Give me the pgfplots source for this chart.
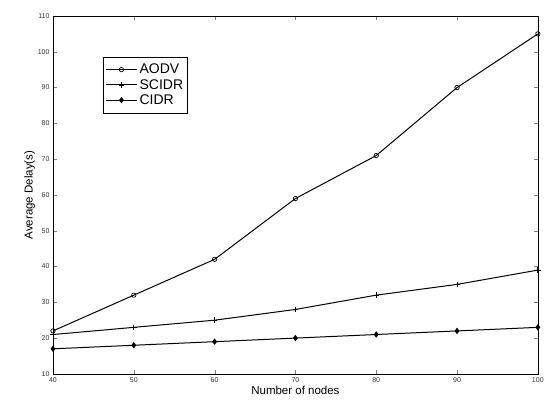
\documentclass[border=0pt]{standalone}
\usepackage{pgfplots}
\pgfplotsset{compat=1.18}
\usepackage{fontspec}
\setmainfont{Liberation Sans}
\usetikzlibrary{calc}
\begin{document}
\begin{tikzpicture}
\begin{axis}[
  scale only axis,
  width=485pt, height=358pt,
  xmin=40, xmax=100, ymin=10, ymax=110,
  xtick={40,50,...,100}, ytick={10,20,...,110},
  tick align=inside, tick pos=both,
  major tick length=4pt,
  /pgf/number format/assume math mode=true,
  tick label style={font=\fontsize{7}{8}\selectfont, color=black!80},
  xlabel={Number of nodes}, ylabel={Average Delay(s)},
  label style={font=\fontsize{11.5}{13}\selectfont},
  xlabel style={yshift=3pt},
  ylabel style={yshift=-4pt},
  legend style={at={(axis cs:46.2,98.6)}, anchor=north west, font=\fontsize{14}{16}\selectfont, draw=black, inner xsep=2pt, inner ysep=5pt, row sep=0pt, legend cell align=left},
  legend image code/.code={
    \draw[mark repeat=2,mark phase=2] plot coordinates {(0cm,0cm) (0.55cm,0cm) (1.1cm,0cm)};
  },
]
\addplot[black, line width=1pt, mark=o, mark size=2.2pt, mark options={solid, fill=white, line width=0.7pt}] coordinates {(40,22) (50,32) (60,42) (70,59) (80,71) (90,90) (100,105)};
\addplot[black, line width=1pt, mark=+, mark size=2.8pt, mark options={line width=0.7pt}] coordinates {(40,21) (50,23) (60,25) (70,28) (80,32) (90,35) (100,39)};
\addplot[black, line width=1pt, mark=diamond*, mark size=2.4pt, mark options={fill=black}] coordinates {(40,17) (50,18) (60,19) (70,20) (80,21) (90,22) (100,23)};
\legend{AODV, SCIDR, CIDR}
\end{axis}
\path ($(current axis.south west)+(-53pt,-29pt)$) rectangle ($(current axis.north east)+(9pt,16pt)$);
\end{tikzpicture}
\end{document}
